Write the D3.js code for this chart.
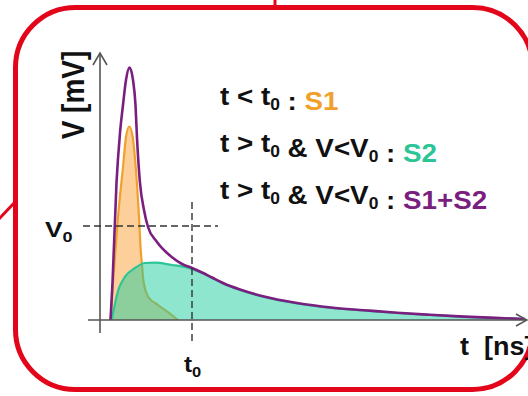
<!DOCTYPE html>
<meta charset="utf-8">
<script src="https://cdn.jsdelivr.net/npm/d3@7"></script>
<style type="text/css">
    body { margin: 0; background: #fff; }
    text { font-family: Arial, "Liberation Sans", sans-serif; font-weight: bold; fill: #111; }
    .axis { stroke: #555; stroke-width: 1.6; fill: none; }
    .guide { stroke: #333; stroke-width: 1.4; stroke-dasharray: 7,4; fill: none; }
</style>
<body>
<script>
    // S1 (fast pulse): t in ns, V in mV
    var tS1 = [1.05, 1.3, 1.8, 2.3, 2.6, 2.93, 3.27, 3.57, 3.9, 4.07, 4.2, 4.33, 4.83, 5.8, 7.17, 7.8];
    var vS1 = [0, 3.7, 10.3, 15.3, 18.3, 19.35, 18.3, 15.3, 10.3, 7.0, 5.5, 4.0, 2.3, 1.5, 0.5, 0];

    // S2 (slow pulse)
    var tS2 = [1.17, 1.83, 2.5, 3.5, 4.5, 5.5, 7.2, 8.2, 9.2, 10.2, 11.2, 12.3, 14.0, 16.4, 19.7, 23.1, 26.4, 29.7, 33.0, 36.4, 39.5, 42.5];
    var vS2 = [0, 3.0, 4.33, 5.2, 5.7, 5.73, 5.5, 5.35, 5.1, 4.7, 4.2, 3.65, 3.0, 2.3, 1.65, 1.2, 0.95, 0.7, 0.5, 0.32, 0.2, 0.1];

    // S1+S2 (total signal)
    var tSum = [1.05, 1.25, 1.65, 2.0, 2.3, 2.6, 2.95, 3.3, 3.55, 3.7, 4.0, 4.4, 4.8, 5.7, 7.3, 8.2, 9.2, 10.2, 11.2, 12.3, 14.0, 16.4, 19.7, 23.1, 26.4, 29.7, 33.0, 36.4, 39.5, 42.5];
    var vSum = [0, 3.7, 13.7, 18.7, 21.5, 24.0, 25.25, 24.0, 21.5, 18.2, 13.7, 11.0, 9.3, 7.8, 6.2, 5.6, 5.2, 4.75, 4.25, 3.7, 3.05, 2.35, 1.7, 1.25, 0.98, 0.72, 0.52, 0.34, 0.21, 0.1];

    var t0 = 9.2, V0 = 9.4;

    var seriesNames = ["S1", "S2", "S1+S2"];
    var seriesColors = ["#f0a12c", "#2cc596", "#7a1f80"];

    var width = 528, height = 396;

    var x = d3.scaleLinear().domain([0, 42.5]).range([100, 525]),
        y = d3.scaleLinear().domain([0, 26.5]).range([320, 55]);

    var svg = d3.select("body")
        .append("svg")
        .attr("width", width)
        .attr("height", height);

    function pts(ts, vs) {
        return ts.map(function(t, i){ return [t, vs[i]]; });
    }

    var area = d3.area()
        .x(function(d){ return x(d[0]); })
        .y0(y(0))
        .y1(function(d){ return y(d[1]); })
        .curve(d3.curveMonotoneX);

    var line = d3.line()
        .x(function(d){ return x(d[0]); })
        .y(function(d){ return y(d[1]); })
        .curve(d3.curveMonotoneX);

    // red frame
    svg.append("line")
        .attr("x1", 275).attr("y1", 0).attr("x2", 275).attr("y2", 8)
        .attr("stroke", "#e3061b").attr("stroke-width", 3);
    svg.append("line")
        .attr("x1", -2).attr("y1", 220).attr("x2", 16).attr("y2", 201)
        .attr("stroke", "#e3061b").attr("stroke-width", 3);
    svg.append("rect")
        .attr("x", 15.5).attr("y", 7.5)
        .attr("width", 517).attr("height", 382)
        .attr("rx", 60).attr("ry", 60)
        .attr("fill", "none")
        .attr("stroke", "#e3061b")
        .attr("stroke-width", 5);

    // S1 area
    svg.append("path")
        .attr("d", area(pts(tS1, vS1)))
        .attr("fill", "#fdd09b");
    svg.append("path")
        .attr("d", line(pts(tS1, vS1)))
        .attr("fill", "none")
        .attr("stroke", seriesColors[0])
        .attr("stroke-width", 2.2);

    // S2 area (translucent, over S1)
    svg.append("path")
        .attr("d", area(pts(tS2, vS2)))
        .attr("fill", "#1ecd9e")
        .attr("fill-opacity", 0.5);
    svg.append("path")
        .attr("d", line(pts(tS2, vS2)))
        .attr("fill", "none")
        .attr("stroke", seriesColors[1])
        .attr("stroke-width", 2.2);

    // total
    svg.append("path")
        .attr("d", line(pts(tSum, vSum)))
        .attr("fill", "none")
        .attr("stroke", seriesColors[2])
        .attr("stroke-width", 2.6);

    // axes
    svg.append("line").attr("class", "axis")
        .attr("x1", x(-1.2)).attr("y1", y(0)).attr("x2", x(42.7)).attr("y2", y(0));
    svg.append("line").attr("class", "axis")
        .attr("x1", x(0)).attr("y1", y(-1.3)).attr("x2", x(0)).attr("y2", y(26.7));
    svg.append("polyline").attr("class", "axis")
        .attr("points", [[x(0) - 7, y(26.7) + 12], [x(0), y(26.7)], [x(0) + 7, y(26.7) + 12]].join(" "));
    svg.append("polyline").attr("class", "axis")
        .attr("points", [[x(42.7) - 11, y(0) - 6], [x(42.7), y(0)], [x(42.7) - 11, y(0) + 6]].join(" "));

    // t0 / V0 guides
    svg.append("line").attr("class", "guide")
        .attr("x1", x(-1.7)).attr("y1", y(V0)).attr("x2", x(11.8)).attr("y2", y(V0));
    svg.append("line").attr("class", "guide")
        .attr("x1", x(t0)).attr("y1", y(11.8)).attr("x2", x(t0)).attr("y2", y(-2.3));

    // labels
    function sub(sel, txt, size) {
        sel.append("tspan").attr("dy", 5).style("font-size", size + "px").text(txt);
        sel.append("tspan").attr("dy", -5).text("");
    }

    var v0 = svg.append("text")
        .attr("transform", "translate(45,237) scale(1.2,1)")
        .style("font-size", "22px");
    v0.append("tspan").text("V");
    sub(v0, "0", 15);

    var tl = svg.append("text")
        .attr("transform", "translate(184,372) scale(1.1,1)")
        .style("font-size", "22px");
    tl.append("tspan").text("t");
    sub(tl, "0", 15);

    svg.append("text")
        .attr("transform", "translate(460,355) scale(1.08,1)")
        .style("font-size", "25px")
        .attr("xml:space", "preserve")
        .text("t  [ns]");

    svg.append("text")
        .attr("transform", "translate(84,95) rotate(-90) scale(1,1.1)")
        .attr("text-anchor", "middle")
        .style("font-size", "28px")
        .text("V [mV]");

    // legend
    var legendRows = [
        [["t < t"], ["0", "sub"], [" : "]],
        [["t > t"], ["0", "sub"], [" & V<V"], ["0", "sub"], [" : "]],
        [["t > t"], ["0", "sub"], [" & V<V"], ["0", "sub"], [" : "]]
    ];

    legendRows.forEach(function(row, i){
        var txt = svg.append("text")
            .attr("transform", "translate(220," + (105 + i * 47) + ") scale(1.09,1)")
            .attr("xml:space", "preserve")
            .style("font-size", "25.5px");
        row.forEach(function(p){
            if (p[1] === "sub") sub(txt, p[0], 16);
            else txt.append("tspan").text(p[0]);
        });
        txt.append("tspan")
            .style("fill", seriesColors[i])
            .text(seriesNames[i]);
    });
</script>
</body>
